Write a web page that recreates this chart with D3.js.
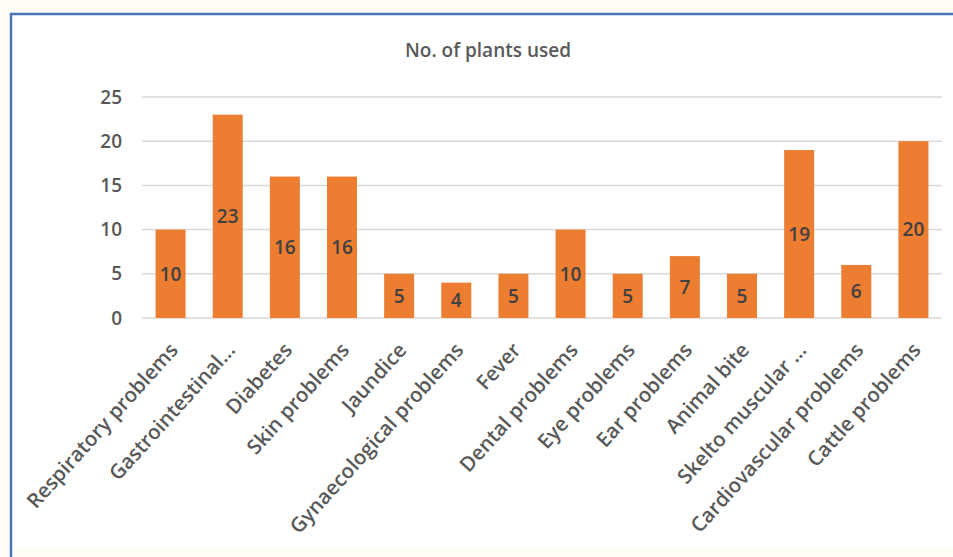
<!DOCTYPE html>
<html>
<head>
<meta charset="utf-8">
<script src="https://cdn.jsdelivr.net/npm/d3@7"></script>
<style>
  html, body { margin: 0; padding: 0; background: #fffdf5; }
  svg { display: block; font-family: "Open Sans", sans-serif; }
</style>
</head>
<body>
<svg id="chart" width="953" height="557"></svg>
<script>
// chart data
const categories = [
  'Respiratory problems', 'Gastrointestinal...', 'Diabetes', 'Skin problems',
  'Jaundice', 'Gynaecological problems', 'Fever', 'Dental problems',
  'Eye problems', 'Ear problems', 'Animal bite', 'Skelto muscular ...',
  'Cardiovascular problems', 'Cattle problems'
]
const plantCounts = [10, 23, 16, 16, 5, 4, 5, 10, 5, 7, 5, 19, 6, 20]
const yTicks = [0, 5, 10, 15, 20, 25]
const chartTitle = 'No. of plants used'

const svg = d3.select('#chart')

// white chart area, then the blue frame on top and left only
svg.append('rect')
  .attr('x', 11).attr('y', 14)
  .attr('width', 942).attr('height', 534)
  .attr('fill', '#ffffff')
svg.append('path')
  .attr('d', 'M11,557 V14 H953')
  .attr('fill', 'none')
  .attr('stroke', '#4a72b8')
  .attr('stroke-width', 2.5)

const plotLeft = 142
const plotRight = 942
const plotTop = 97
const plotBottom = 318

const x = d3.scaleBand()
  .domain(categories)
  .range([plotLeft, plotRight])
  .paddingInner(0.475)
  .paddingOuter(0.2375)

const y = d3.scaleLinear()
  .domain([0, 25])
  .range([plotBottom, plotTop])

// gridlines
svg.append('g')
  .selectAll('line')
  .data(yTicks)
  .enter()
  .append('line')
  .attr('x1', plotLeft)
  .attr('x2', plotRight)
  .attr('y1', d => y(d))
  .attr('y2', d => y(d))
  .attr('stroke', '#d9d9d9')
  .attr('stroke-width', 1.5)

// y axis labels
const yAxis = d3.axisLeft(y).tickValues(yTicks).tickSize(0).tickPadding(20)
const yg = svg.append('g')
  .attr('transform', 'translate(' + plotLeft + ',0)')
  .call(yAxis)
yg.select('.domain').remove()
yg.selectAll('text')
  .attr('fill', '#595959')
  .style('font-size', '19px')
  .style('font-weight', 600)
  .style('font-family', '"Open Sans", sans-serif')

// bars
svg.append('g')
  .selectAll('rect')
  .data(plantCounts)
  .enter()
  .append('rect')
  .attr('x', (d, i) => x(categories[i]))
  .attr('width', x.bandwidth())
  .attr('y', d => y(d))
  .attr('height', d => y(0) - y(d))
  .attr('fill', '#ed7d31')

// value labels, centred in each bar
svg.append('g')
  .selectAll('text')
  .data(plantCounts)
  .enter()
  .append('text')
  .attr('x', (d, i) => x(categories[i]) + x.bandwidth() / 2)
  .attr('y', d => (y(d) + y(0)) / 2)
  .attr('dy', '0.36em')
  .attr('text-anchor', 'middle')
  .attr('fill', '#404040')
  .style('font-size', '19px')
  .style('font-weight', 600)
  .text(d => d)

// rotated category labels
svg.append('g')
  .selectAll('text')
  .data(categories)
  .enter()
  .append('text')
  .attr('transform', d => 'translate(' + (x(d) + x.bandwidth() / 2 + 3) + ',' + 346 + ') rotate(-48)')
  .attr('dy', '0.36em')
  .attr('text-anchor', 'end')
  .attr('fill', '#595959')
  .style('font-size', '20.5px')
  .style('font-weight', 600)
  .text(d => d)

// title
svg.append('text')
  .attr('x', 488)
  .attr('y', 50)
  .attr('dy', '0.36em')
  .attr('text-anchor', 'middle')
  .attr('fill', '#595959')
  .style('font-size', '19px')
  .style('font-weight', 600)
  .text(chartTitle)
</script>
</body>
</html>
